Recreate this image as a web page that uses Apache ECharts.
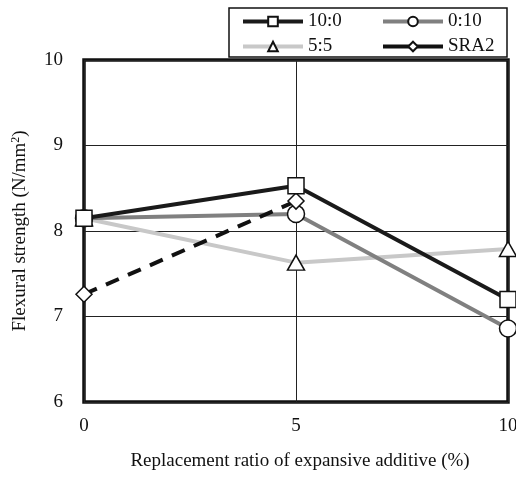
<!DOCTYPE html>
<html>
<head>
<meta charset="utf-8">
<script src="https://cdn.jsdelivr.net/npm/echarts@6/dist/echarts.min.js"></script>
<style>
  html, body { margin: 0; padding: 0; background: #fff; }
  #main { width: 516px; height: 477px; }
</style>
</head>
<body>
<div id="main"></div>
<script>
// 横轴：膨胀材置换率 (%)
var ratios = [0, 5, 10];
// 各配比的弯曲强度 (N/mm2)
var s10_0 = [8.15, 8.53, 7.20];
var s0_10 = [8.15, 8.20, 6.86];
var s5_5 = [8.15, 7.63, 7.79];
var sSRA2 = [7.26, 8.35];
var xTicks = [0, 5, 10];
var yTicks = [6, 7, 8, 9, 10];

var FONT = 'Liberation Serif';

function pairs(xs, ys) {
  return ys.map(function (v, i) { return [xs[i], v]; });
}

var chart = echarts.init(document.getElementById('main'));

var markStyle = {
  color: '#fff',
  borderColor: '#111',
  borderWidth: 1.5
};

var legendBase = {
  orient: 'vertical',
  top: 12,
  padding: 0,
  itemWidth: 60,
  itemHeight: 12,
  itemGap: 6,
  lineStyle: { width: 4 },
  textStyle: { fontFamily: FONT, fontSize: 19, color: '#111', lineHeight: 17 }
};

var option = {
  animation: false,
  backgroundColor: '#fff',
  grid: {
    left: 84,
    right: 8,
    top: 60,
    bottom: 75,
    outerBoundsMode: 'none',
    show: true,
    borderColor: '#111',
    borderWidth: 3.5,
    backgroundColor: 'transparent'
  },
  legend: [
    Object.assign({}, legendBase, {
      data: ['10:0', '5:5'],
      left: 241
    }),
    Object.assign({}, legendBase, {
      data: ['0:10', 'SRA2'],
      left: 381,
      lineStyle: { width: 4, type: 'solid' }
    })
  ],
  graphic: [
    {
      type: 'rect',
      shape: { x: 229, y: 8, width: 278, height: 49 },
      style: { fill: 'none', stroke: '#111', lineWidth: 1.5 },
      z: 10
    }
  ],
  xAxis: {
    type: 'value',
    min: 0,
    max: 10,
    interval: 5,
    name: 'Replacement ratio of expansive additive (%)',
    nameLocation: 'middle',
    nameGap: 50,
    nameTextStyle: { fontFamily: FONT, fontSize: 19, color: '#111', padding: [0, 0, 0, 8] },
    axisLine: { show: false },
    axisTick: { show: false },
    axisLabel: {
      margin: 15,
      fontFamily: FONT, fontSize: 19, color: '#111',
      formatter: function (v) { return xTicks.indexOf(v) >= 0 ? String(v) : ''; }
    },
    splitLine: { show: true, lineStyle: { color: '#222', width: 1 } }
  },
  yAxis: {
    type: 'value',
    min: 6,
    max: 10,
    interval: 1,
    name: 'Flexural strength (N/mm{sup|2})',
    nameLocation: 'middle',
    nameGap: 53,
    nameTextStyle: {
      fontFamily: FONT, fontSize: 19, color: '#111',
      rich: {
        sup: { fontFamily: FONT, fontSize: 12, color: '#111', padding: [0, 0, 9, 0] }
      }
    },
    axisLine: { show: false },
    axisTick: { show: false },
    axisLabel: {
      margin: 21,
      fontFamily: FONT, fontSize: 19, color: '#111',
      formatter: function (v) { return yTicks.indexOf(v) >= 0 ? String(v) : ''; }
    },
    splitLine: { show: true, lineStyle: { color: '#222', width: 1 } }
  },
  series: [
    {
      name: '5:5',
      type: 'line',
      data: pairs(ratios, s5_5),
      symbol: 'triangle',
      symbolSize: [17, 15],
      lineStyle: { color: '#c8c8c8', width: 4 },
      itemStyle: markStyle,
      z: 2
    },
    {
      name: '0:10',
      type: 'line',
      data: pairs(ratios, s0_10),
      symbol: 'circle',
      symbolSize: 17,
      lineStyle: { color: '#808080', width: 4 },
      itemStyle: markStyle,
      z: 3
    },
    {
      name: 'SRA2',
      type: 'line',
      data: pairs(ratios, sSRA2),
      symbol: 'diamond',
      symbolSize: [16, 16],
      lineStyle: { color: '#111', width: 4, type: [14, 10] },
      itemStyle: markStyle,
      z: 4
    },
    {
      name: '10:0',
      type: 'line',
      data: pairs(ratios, s10_0),
      symbol: 'rect',
      symbolSize: 16,
      lineStyle: { color: '#1a1a1a', width: 4 },
      itemStyle: markStyle,
      z: 5
    }
  ]
};

chart.setOption(option);
</script>
</body>
</html>
